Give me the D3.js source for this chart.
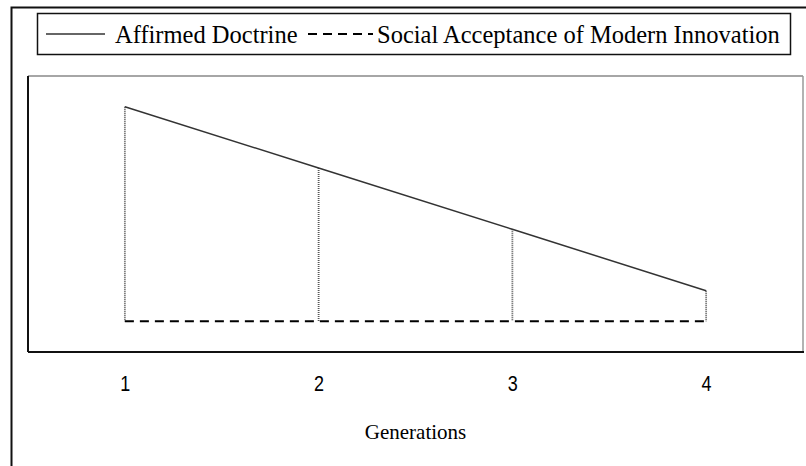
<!DOCTYPE html>
<html>
<head>
<meta charset="utf-8">
<script src="https://cdn.jsdelivr.net/npm/d3@7"></script>
<style>
  body { margin: 0; background: #fff; }
  svg { display: block; }
</style>
</head>
<body>
<div id="chart"></div>
<script>
// values
const generations = [1, 2, 3, 4];
const doctrine = [7, 5, 3, 1];
const acceptance = [0, 0, 0, 0];
const tickLabels = ["1", "2", "3", "4"];
const seriesNames = ["Affirmed Doctrine", "Social Acceptance of Modern Innovation"];

const width = 806, height = 466;
const serif = "Liberation Serif, Times New Roman, serif";

const svg = d3.select("#chart").append("svg")
    .attr("width", width)
    .attr("height", height);

// outer frame, runs off the page on the right and bottom
svg.append("rect")
    .attr("x", 11.5).attr("y", 7.5)
    .attr("width", 1000).attr("height", 1000)
    .attr("fill", "none")
    .attr("stroke", "#111")
    .attr("stroke-width", 2);

// plot box
const box = { left: 28, top: 76, right: 803, bottom: 352 };

const x = d3.scaleLinear().domain([0.5, 4.5]).range([box.left, box.right]);
const y = d3.scaleLinear().domain([-1, 8]).range([box.bottom, box.top]);

svg.append("line")
    .attr("x1", box.left).attr("y1", box.top).attr("x2", box.right).attr("y2", box.top)
    .attr("stroke", "#888").attr("stroke-width", 1.5);
svg.append("line")
    .attr("x1", box.right).attr("y1", box.top).attr("x2", box.right).attr("y2", box.bottom)
    .attr("stroke", "#999").attr("stroke-width", 1.5);
svg.append("line")
    .attr("x1", box.left).attr("y1", box.top).attr("x2", box.left).attr("y2", box.bottom)
    .attr("stroke", "#111").attr("stroke-width", 2);
svg.append("line")
    .attr("x1", box.left).attr("y1", box.bottom).attr("x2", box.right + 1).attr("y2", box.bottom)
    .attr("stroke", "#111").attr("stroke-width", 2);

const data = generations.map((g, i) => ({ g, d: doctrine[i], a: acceptance[i] }));

// drop lines between the two series
svg.selectAll("line.drop")
    .data(data)
    .join("line")
    .attr("class", "drop")
    .attr("x1", d => x(d.g)).attr("x2", d => x(d.g))
    .attr("y1", d => y(d.d)).attr("y2", d => y(d.a))
    .attr("stroke", "#555")
    .attr("stroke-width", 1.8)
    .attr("stroke-dasharray", "1,1");

const line = d3.line().x(d => x(d[0])).y(d => y(d[1]));

svg.append("path")
    .datum(data.map(d => [d.g, d.a]))
    .attr("d", line)
    .attr("fill", "none")
    .attr("stroke", "#000")
    .attr("stroke-width", 2)
    .attr("stroke-dasharray", "9,6");

svg.append("path")
    .datum(data.map(d => [d.g, d.d]))
    .attr("d", line)
    .attr("fill", "none")
    .attr("stroke", "#333")
    .attr("stroke-width", 1.5);

// x axis labels (no axis line), slightly stretched tall like the original
const xAxis = svg.append("g")
    .attr("transform", `translate(0,${box.bottom + 23})`)
    .call(d3.axisBottom(x).tickValues(generations).tickFormat((d, i) => tickLabels[i]).tickSize(0));
xAxis.select(".domain").remove();
xAxis.attr("font-size", null).attr("font-family", null);
xAxis.selectAll("text")
    .attr("dy", null)
    .attr("y", 0)
    .attr("dominant-baseline", "hanging")
    .attr("transform", "scale(1,1.2)")
    .style("font-family", "Liberation Sans, Arial, sans-serif")
    .style("font-size", "18px")
    .attr("fill", "#000");

svg.append("text")
    .attr("x", (box.left + box.right) / 2)
    .attr("y", 439)
    .attr("text-anchor", "middle")
    .attr("font-family", serif)
    .attr("font-size", 21)
    .text("Generations");

// legend
const legend = svg.append("g");
legend.append("rect")
    .attr("x", 37.5).attr("y", 13.5)
    .attr("width", 753).attr("height", 41)
    .attr("fill", "#fff")
    .attr("stroke", "#111")
    .attr("stroke-width", 1.5);

legend.append("line")
    .attr("x1", 46).attr("x2", 105).attr("y1", 34).attr("y2", 34)
    .attr("stroke", "#333").attr("stroke-width", 1.5);
legend.append("text")
    .attr("x", 115).attr("y", 43)
    .attr("font-family", serif)
    .attr("font-size", 24.5)
    .text(seriesNames[0]);

legend.append("line")
    .attr("x1", 308).attr("x2", 373).attr("y1", 34).attr("y2", 34)
    .attr("stroke", "#000").attr("stroke-width", 2)
    .attr("stroke-dasharray", "9,6");
legend.append("text")
    .attr("x", 377).attr("y", 43)
    .attr("font-family", serif)
    .attr("font-size", 24.5)
    .text(seriesNames[1]);
</script>
</body>
</html>
